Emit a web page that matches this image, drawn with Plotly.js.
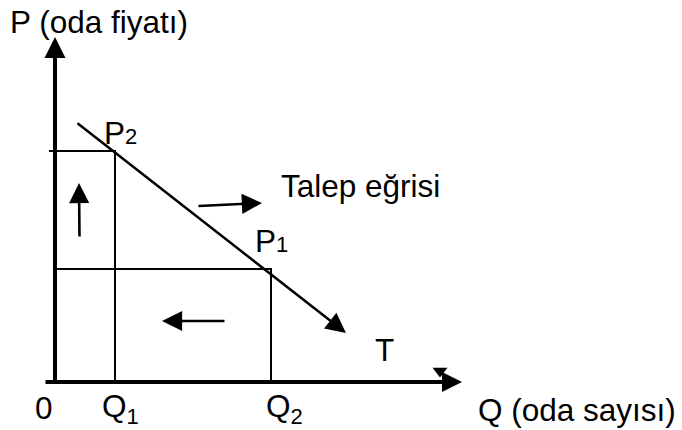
<!DOCTYPE html>
<html>
<head>
<meta charset="utf-8">
<script src="https://cdn.plot.ly/plotly-3.0.1.min.js"></script>
<style>html,body{margin:0;padding:0;background:#fff;}#chart{width:682px;height:430px;}</style>
</head>
<body>
<div id="chart"></div>
<script>
// Quantities (Q) and prices (P) in diagram units
const quantityLevels = [6.0, 21.6];          // Q1, Q2
const priceLevels = [23.1, 11.3];            // P2, P1
const demandQ = [2.1, 29.1];                 // demand curve T (start, arrow tip)
const demandP = [26.0, 4.9];
const axisQ = [-1.1, 40.7];                  // horizontal axis start, tip
const axisP = [-0.1, 34.5];                  // vertical axis start, tip
const p2GuideStartQ = -0.6;
const upArrowQ = [2.45, 2.4];  const upArrowP = [14.4, 19.9];
const rightArrowQ = [14.2, 20.7]; const rightArrowP = [17.6, 17.9];
const leftArrowQ = [17.1, 10.7]; const leftArrowP = [6.1, 6.1];
const markerQ = [38.5]; const markerP = [1.1];

const labelTexts = ["P (oda fiyatı)", "P<span style='font-size:22px'>2</span>", "Talep eğrisi",
  "P<span style='font-size:22px'>1</span>", "T", "0", "Q<sub>1</sub>", "Q<sub>2</sub>", "Q (oda sayısı)"];
const labelQ = [4.4, 6.5, 30.5, 21.6, 32.9, -1.1, 6.5, 22.9, 52.2];
const labelP = [36.0, 24.9, 19.6, 14.1, 3.2, -2.6, -2.6, -2.6, -2.8];

const font = {family: "Liberation Sans, Arial, sans-serif", size: 31.5, color: "#000"};
const black = "#000";

const traces = [
  // P2 horizontal guide and Q1 vertical guide
  {x: [p2GuideStartQ, quantityLevels[0], quantityLevels[0]], y: [priceLevels[0], priceLevels[0], 0],
   mode: "lines", line: {color: black, width: 2}, hoverinfo: "skip"},
  // P1 horizontal guide and Q2 vertical guide
  {x: [0, quantityLevels[1], quantityLevels[1]], y: [priceLevels[1], priceLevels[1], 0],
   mode: "lines", line: {color: black, width: 2}, hoverinfo: "skip"},
  // small triangle on the Q axis
  {x: markerQ, y: markerP, mode: "markers",
   marker: {symbol: "triangle-down", size: 13, color: black}, hoverinfo: "skip"}
];

function arrow(qs, ps, width, size) {
  return {x: qs[1], y: ps[1], ax: qs[0], ay: ps[0], xref: "x", yref: "y", axref: "x", ayref: "y",
    text: "", showarrow: true, arrowhead: 2, arrowwidth: width, arrowsize: size,
    arrowcolor: black, standoff: 0, startstandoff: 0};
}

const annotations = [
  arrow([0, 0], axisP, 4, 1.05),
  arrow(axisQ, [0, 0], 4, 1.0),
  arrow(demandQ, demandP, 2.5, 1.6),
  arrow(upArrowQ, upArrowP, 2.6, 1.55),
  arrow(rightArrowQ, rightArrowP, 2.6, 1.55),
  arrow(leftArrowQ, leftArrowP, 2.6, 1.55)
];
labelTexts.forEach((t, i) => {
  annotations.push({x: labelQ[i], y: labelP[i], xref: "x", yref: "y", text: t, showarrow: false,
    font: font, xanchor: "center", yanchor: "middle"});
});

const layout = {
  width: 682, height: 430,
  margin: {l: 0, r: 0, t: 0, b: 0},
  paper_bgcolor: "#fff", plot_bgcolor: "#fff",
  showlegend: false,
  xaxis: {range: [-5.5, 62.7], visible: false, fixedrange: true},
  yaxis: {range: [-4.8, 38.2], visible: false, fixedrange: true},
  annotations: annotations
};

Plotly.newPlot("chart", traces, layout, {displayModeBar: false, staticPlot: true});
</script>
</body>
</html>
